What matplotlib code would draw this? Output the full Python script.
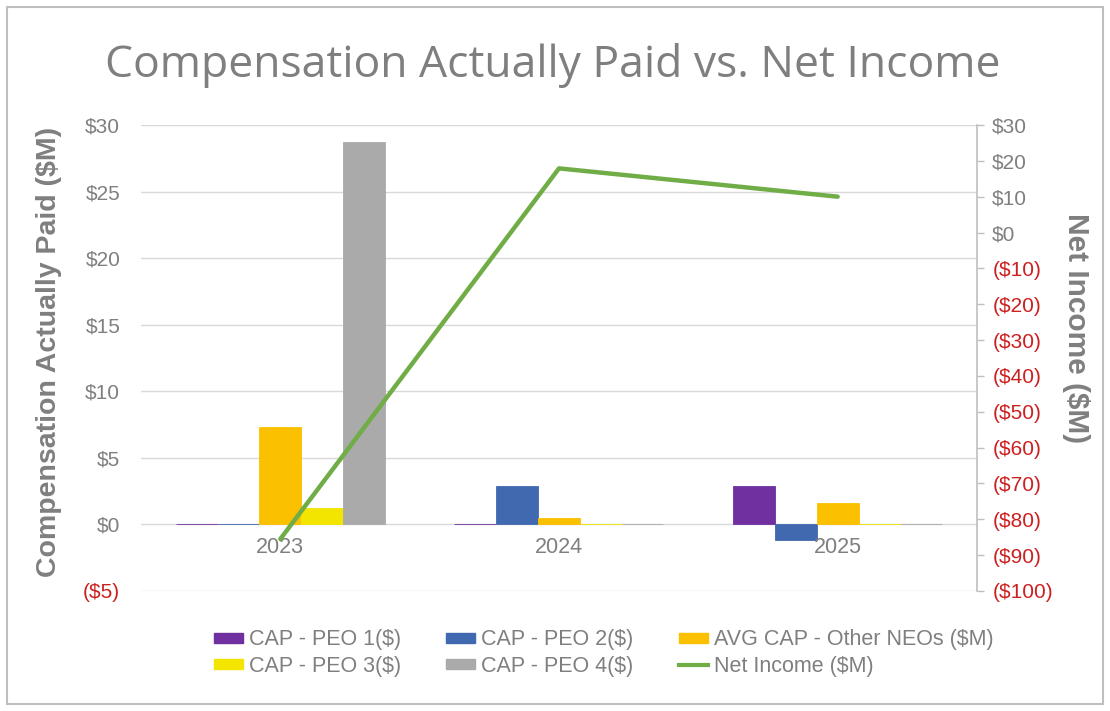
import matplotlib
matplotlib.use("Agg")
import matplotlib.pyplot as plt
from matplotlib.patches import Rectangle, Patch
from matplotlib.lines import Line2D
import numpy as np

years = ["2023", "2024", "2025"]
cap_peo1 = [0.0, 0.0, 2.9]
cap_peo2 = [0.0, 2.9, -1.15]
avg_cap_other = [7.3, 0.5, 1.6]
cap_peo3 = [1.2, 0.0, 0.0]
cap_peo4 = [28.75, 0.0, 0.0]
net_income = [-85.5, 17.9, 10.0]

series_names = ["CAP - PEO 1($)", "CAP - PEO 2($)", "AVG CAP - Other NEOs ($M)",
                "CAP - PEO 3($)", "CAP - PEO 4($)"]
series_vals = [cap_peo1, cap_peo2, avg_cap_other, cap_peo3, cap_peo4]
series_colors = ["#7030a0", "#4169b0", "#fbc000", "#f4e500", "#aaaaaa"]
line_color = "#70ad47"
line_name = "Net Income ($M)"

left_ticks = [-5, 0, 5, 10, 15, 20, 25, 30]
right_ticks = list(range(-100, 31, 10))

GRAY = "#7f7f7f"
RED = "#cc1f1f"

plt.rcParams['font.family'] = ['Liberation Sans', 'DejaVu Sans']

W, H = 1110, 711
fig = plt.figure(figsize=(W / 100, H / 100), dpi=100)

# frame
fig.patches.append(Rectangle((7 / W, 7 / H), (W - 14) / W, (H - 14) / H,
                             transform=fig.transFigure, fill=False,
                             edgecolor="#bfbfbf", linewidth=1.5))

x0, x1 = 141, 977
ytop, ybot = 125, 591
ax = fig.add_axes([x0 / W, 1 - ybot / H, (x1 - x0) / W, (ybot - ytop) / H])
ax2 = ax.twinx()

x = np.arange(len(years))
bw = 0.15
for i, (vals, col) in enumerate(zip(series_vals, series_colors)):
    ax.bar(x + (i - 2) * bw, vals, width=bw, color=col, edgecolor=col,
           linewidth=0.6, zorder=3)

ax.set_xlim(-0.5, 2.5)
ax.set_ylim(-5, 30)
ax.set_yticks(left_ticks)
ax.set_yticklabels([f"(${-v})" if v < 0 else f"${v}" for v in left_ticks])
for lab, v in zip(ax.get_yticklabels(), left_ticks):
    lab.set_color(RED if v < 0 else GRAY)
ax.tick_params(axis='y', length=0, pad=15, labelsize=15)
ax.set_xticks([])
for xi, yr in zip(x, years):
    ax.annotate(yr, xy=(xi, 0), xycoords='data', xytext=(0, -9),
                textcoords='offset points', ha='center', va='top',
                color=GRAY, fontsize=15.5)
ax.grid(axis='y', color="#d9d9d9", linewidth=1.0, zorder=0)
ax.set_axisbelow(True)
for s in ax.spines.values():
    s.set_visible(False)

ax2.plot(x, net_income, color=line_color, linewidth=3.2,
         solid_capstyle='round', solid_joinstyle='round', zorder=5)
ax2.set_ylim(-100, 30)
ax2.set_yticks(right_ticks)
ax2.set_yticklabels([f"(${-v})" if v < 0 else f"${v}" for v in right_ticks])
for lab, v in zip(ax2.get_yticklabels(), right_ticks):
    lab.set_color(RED if v < 0 else GRAY)
ax2.tick_params(axis='y', length=5, width=1, color="#bfbfbf", pad=6, labelsize=15)
for k, s in ax2.spines.items():
    s.set_visible(k == 'right')
ax2.spines['right'].set_color("#bfbfbf")
ax2.spines['right'].set_linewidth(1.2)

fig.text(553 / W, 1 - 65 / H, "Compensation Actually Paid vs. Net Income",
         ha='center', va='center', color=GRAY, fontsize=32,
         family=['Open Sans', 'DejaVu Sans'])
fig.text(49 / W, 1 - 352 / H, "Compensation Actually Paid ($M)", rotation=90,
         ha='center', va='center', color=GRAY, fontsize=20.5, fontweight='bold')
fig.text(1076 / W, 1 - 328 / H, "Net Income ($M)", rotation=-90,
         ha='center', va='center', color=GRAY, fontsize=21.5, fontweight='bold')

handles = [Patch(facecolor=c, edgecolor=c) for c in series_colors]
handles.append(Line2D([0], [0], color=line_color, linewidth=3))
labels = series_names + [line_name]
order_cols = [0, 3, 1, 4, 2, 5]
fig.legend([handles[i] for i in order_cols], [labels[i] for i in order_cols],
           ncol=3, loc='center left', bbox_to_anchor=(205 / W, 1 - 653 / H),
           borderaxespad=0, frameon=False, fontsize=15.5, labelcolor=GRAY,
           handlelength=1.35, handleheight=0.35, handletextpad=0.28,
           columnspacing=2.1, labelspacing=0.25)

fig.savefig("out.png", dpi=100)
